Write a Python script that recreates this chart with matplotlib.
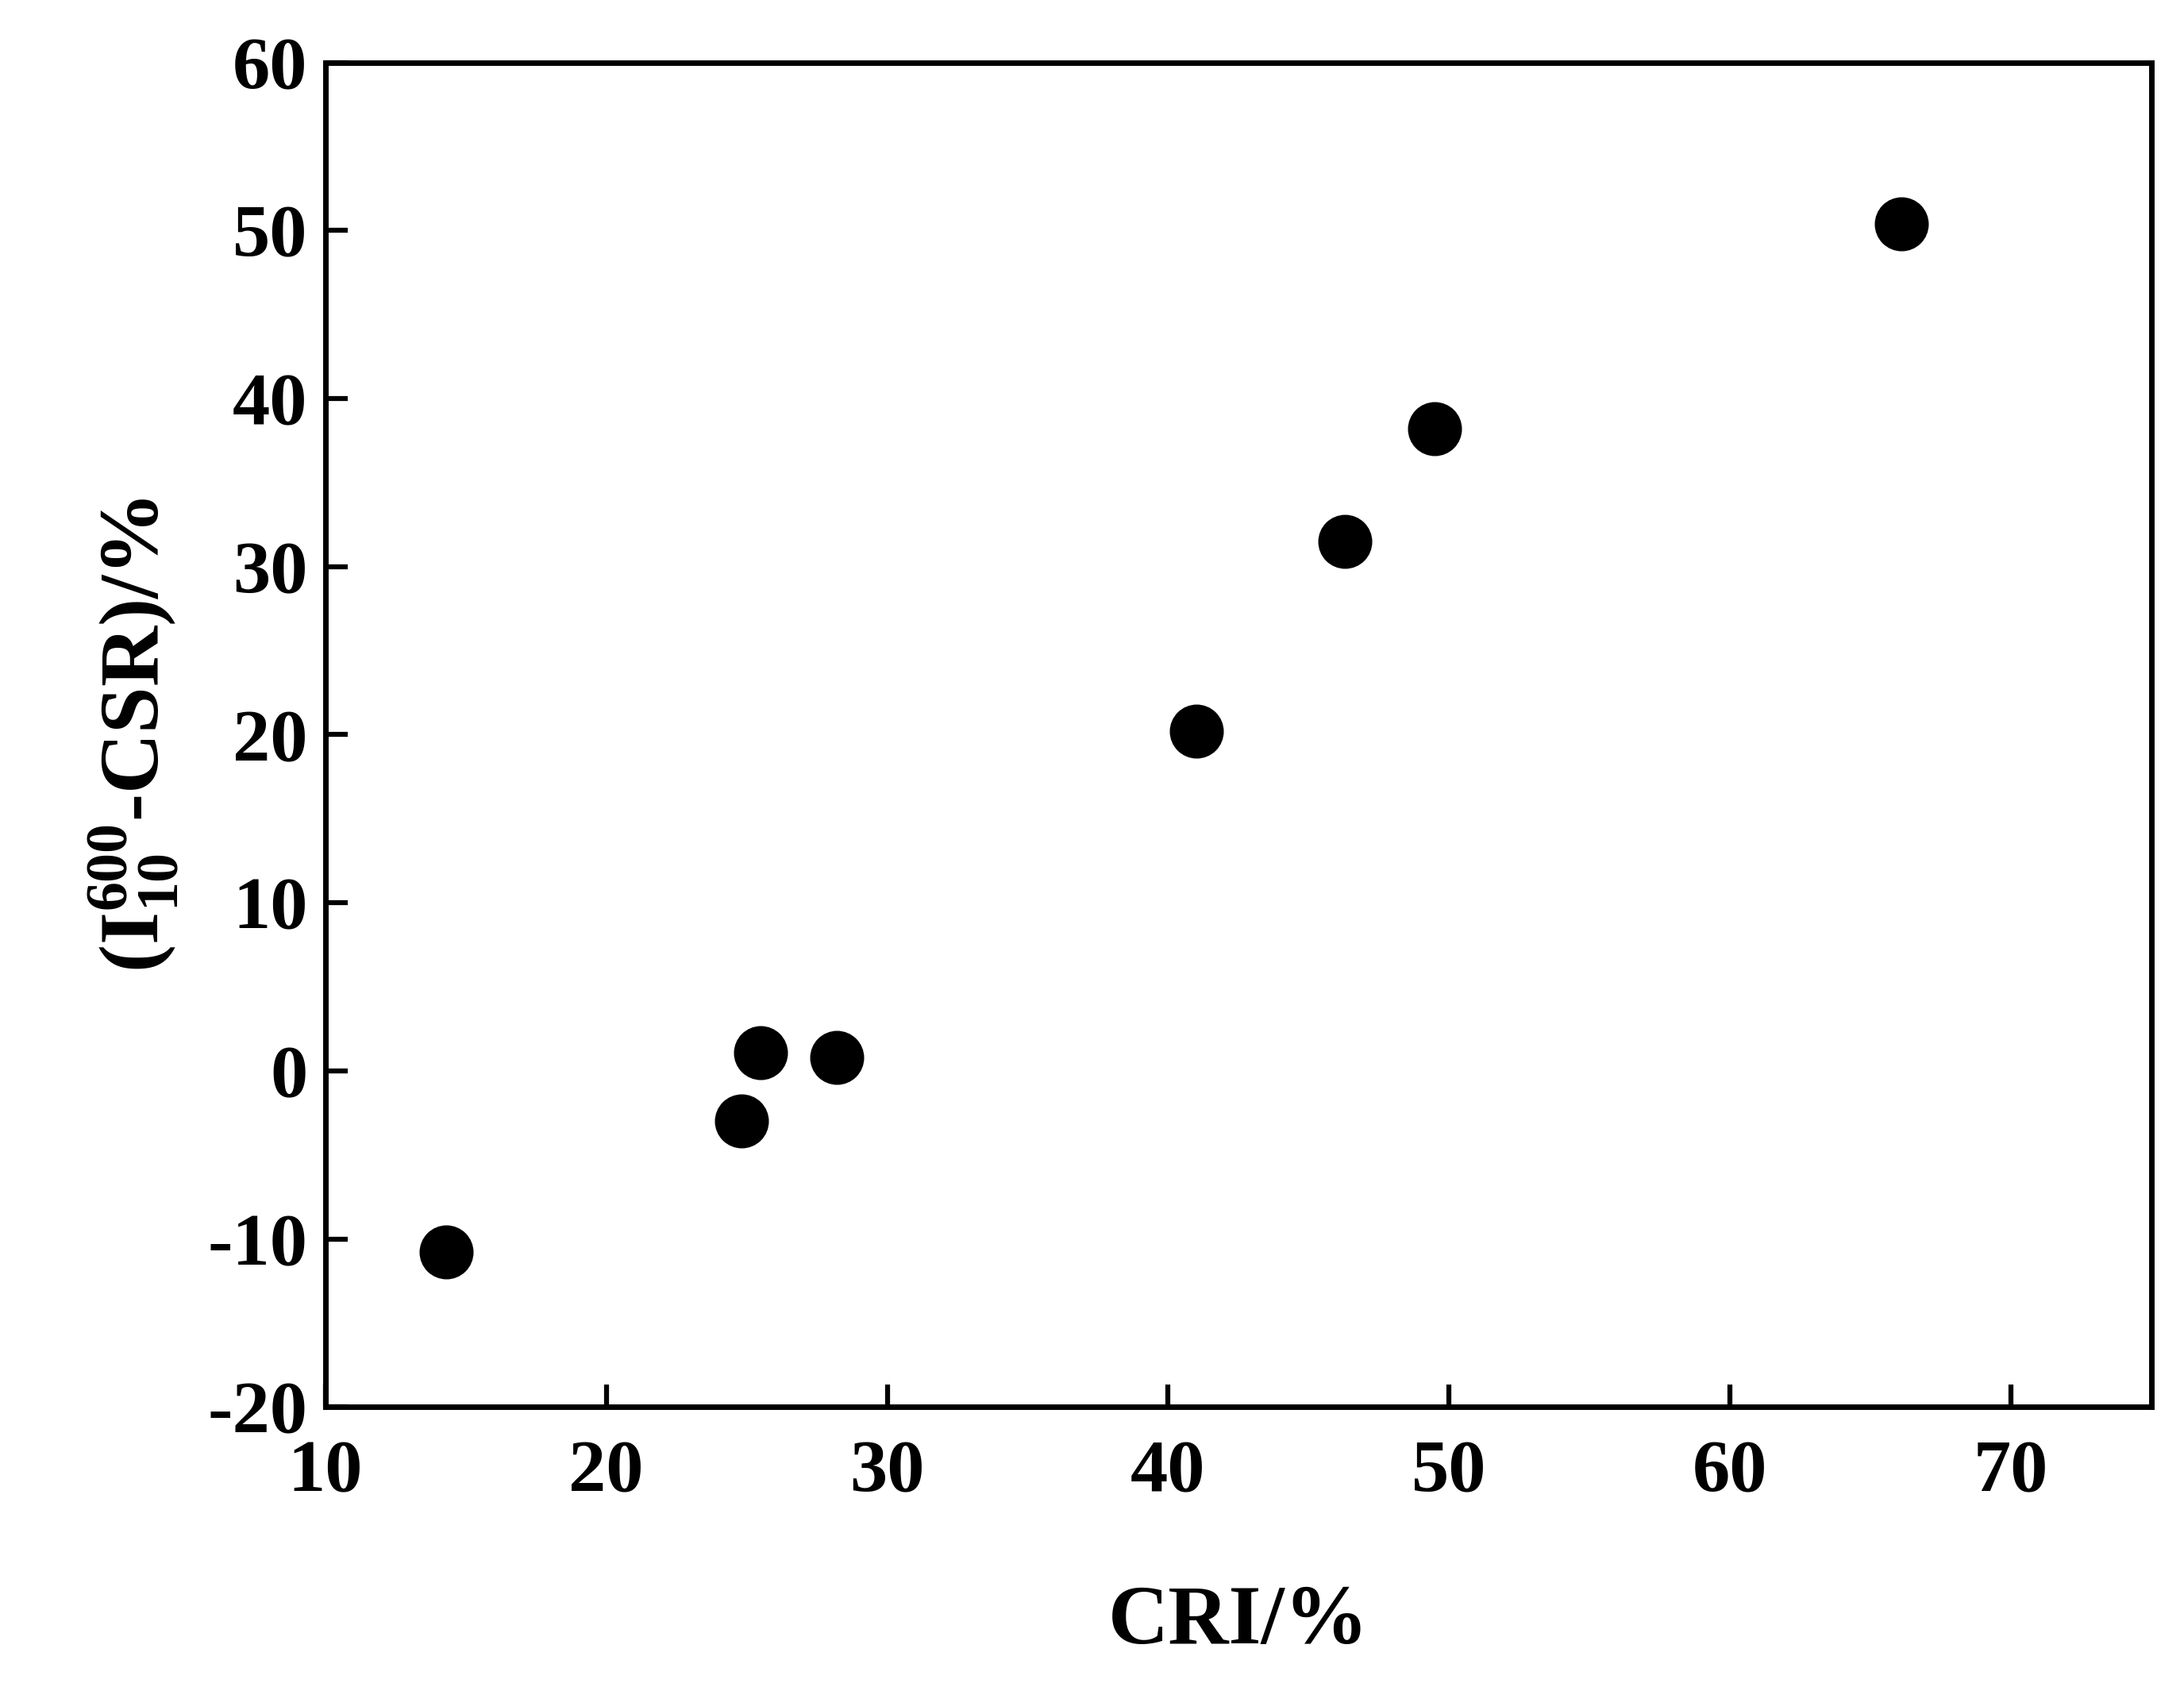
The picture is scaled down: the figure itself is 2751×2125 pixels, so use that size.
import matplotlib
matplotlib.use("Agg")
import matplotlib.pyplot as plt

cri = [14.3, 24.8, 25.5, 28.2, 41.0, 46.3, 49.5, 66.1]
diff = [-10.8, -3.0, 1.1, 0.8, 20.2, 31.5, 38.2, 50.4]

plt.rcParams['font.family'] = ['Liberation Serif', 'DejaVu Serif']
plt.rcParams['font.weight'] = 'bold'
plt.rcParams['axes.unicode_minus'] = False
plt.rcParams['mathtext.fontset'] = 'custom'
plt.rcParams['mathtext.rm'] = 'Liberation Serif:bold'
plt.rcParams['mathtext.it'] = 'Liberation Serif:bold'
plt.rcParams['mathtext.bf'] = 'Liberation Serif:bold'

fig = plt.figure(figsize=(27.51, 21.25), dpi=100)
ax = fig.add_axes([0.149, 0.166, 0.836, 0.797])
ax.scatter(cri, diff, s=2300, color='black', zorder=3)

ax.set_xlim(10, 75)
ax.set_ylim(-20, 60)
ax.set_xticks(range(10, 71, 10))
ax.set_yticks(range(-20, 61, 10))
ax.tick_params(direction='in', length=20, width=4.5, labelsize=68)
ax.tick_params(axis='x', pad=30)
ax.tick_params(axis='y', pad=16)
for s in ax.spines.values():
    s.set_linewidth(5)
for lab in ax.get_xticklabels() + ax.get_yticklabels():
    lab.set_fontweight('bold')

ax.set_xlabel('CRI/%', fontsize=76, fontweight='bold', labelpad=70)
ax.set_ylabel(r'(I$_{10}^{600}$-CSR)/%', fontsize=76, fontweight='bold', labelpad=25)

fig.savefig('out.png', dpi=100, facecolor='white')
